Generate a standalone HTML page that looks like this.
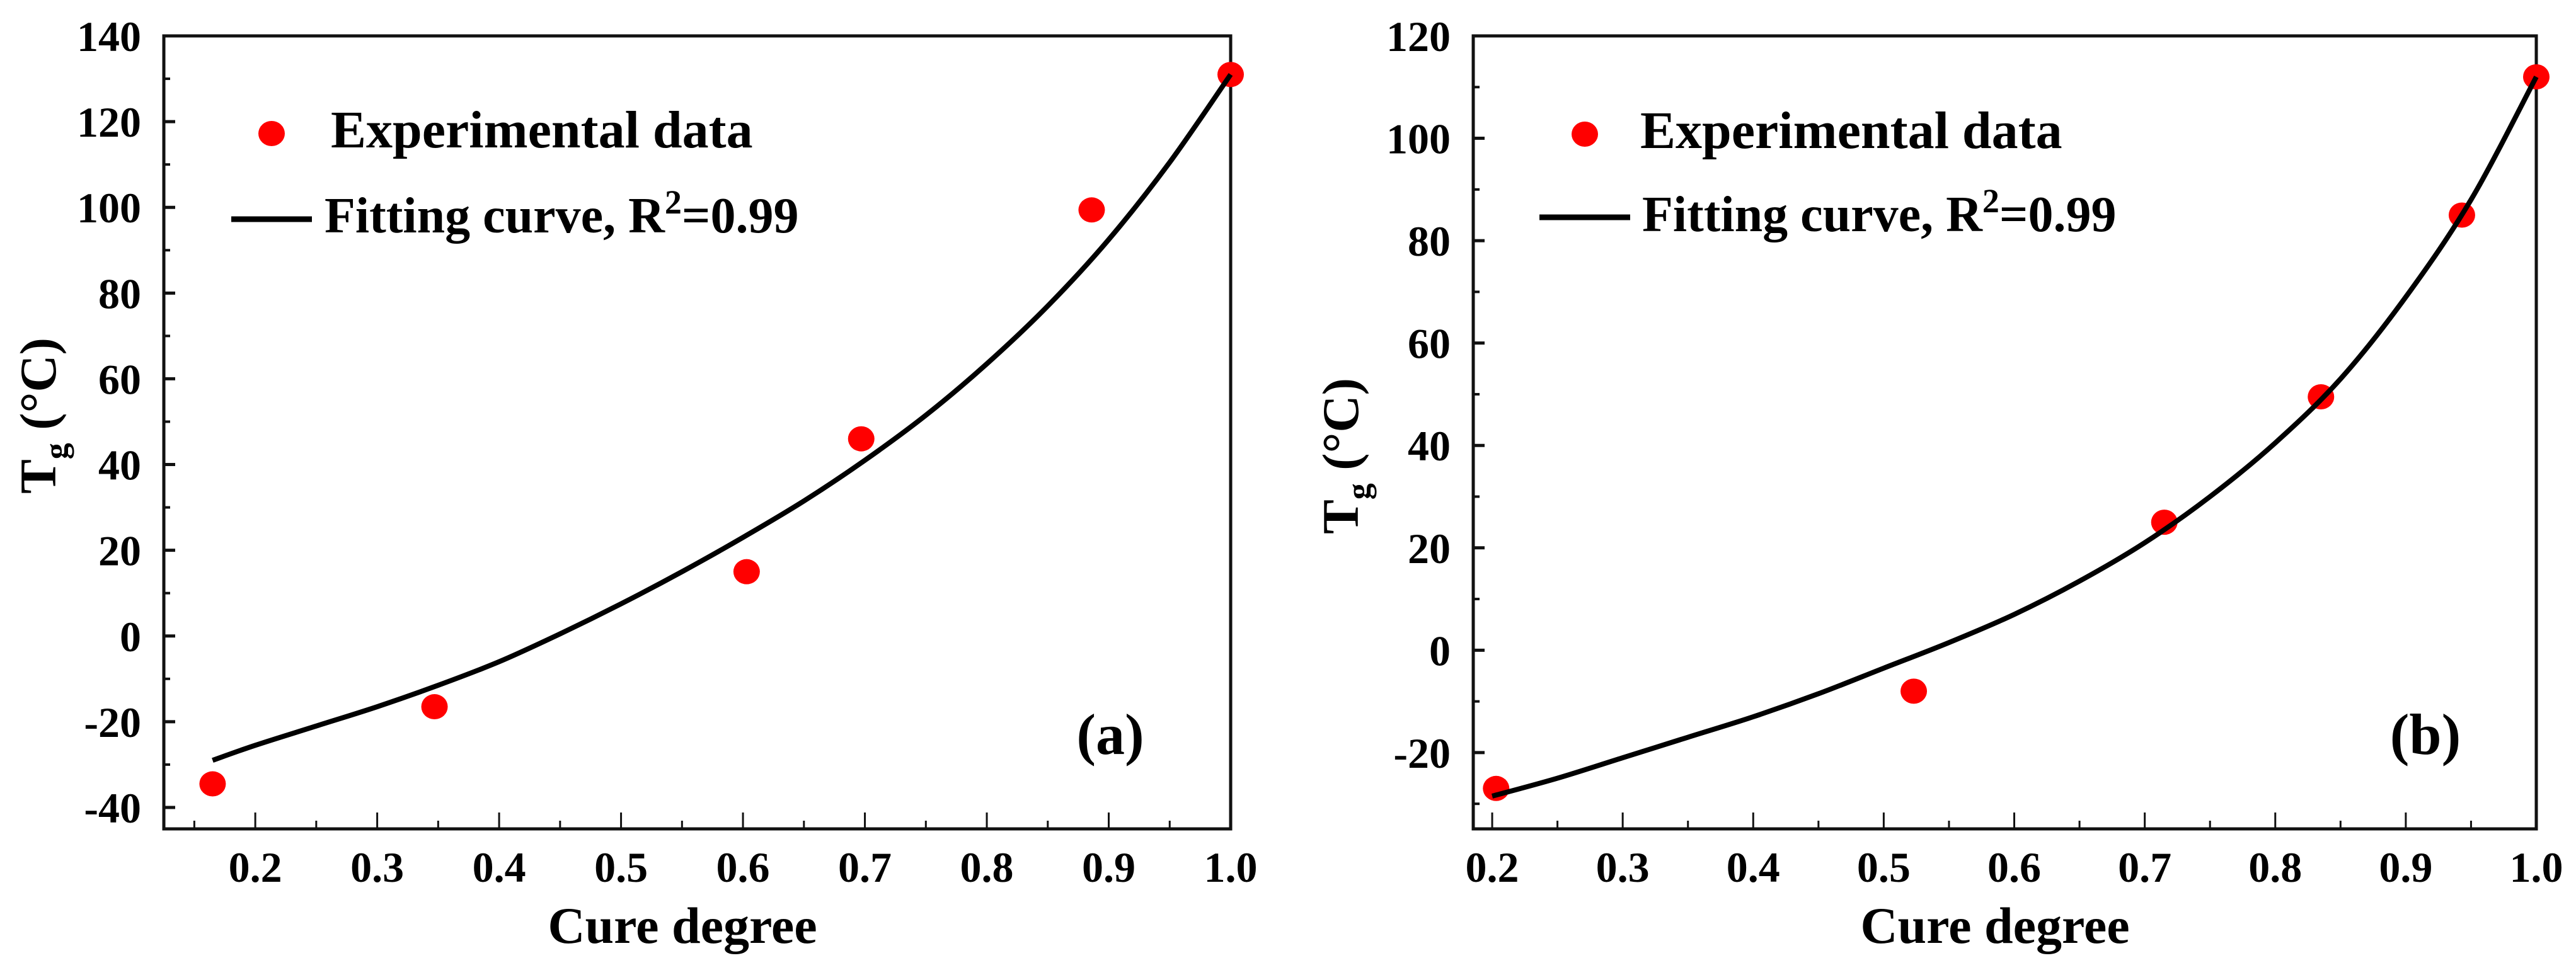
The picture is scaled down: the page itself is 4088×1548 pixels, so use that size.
<!DOCTYPE html>
<html><head><meta charset="utf-8"><style>
html,body{margin:0;padding:0;background:#fff;width:4088px;height:1548px;overflow:hidden}
svg text{font-family:"Liberation Serif",serif;font-weight:bold;fill:#000}
</style></head><body>
<svg id="fig" width="4088" height="1548" viewBox="0 0 4088 1548" xmlns="http://www.w3.org/2000/svg"></svg>
<script>
// Panel (a) data
const aExpX = [0.165, 0.347, 0.603, 0.697, 0.886, 1.0];
const aExpY = [-34.5, -16.5, 15, 46, 99.4, 131];
const aFitX = [0.165, 0.2, 0.25, 0.3, 0.35, 0.4, 0.45, 0.5, 0.55, 0.6, 0.65, 0.7, 0.75, 0.8, 0.85, 0.9, 0.95, 1.0];
const aFitY = [-29, -25.5, -21, -16.5, -11.5, -6, 0.5, 7.5, 15, 23, 31.5, 41, 51.5, 63.5, 77, 92.5, 110.5, 131];
const aYTicks = [-40, -20, 0, 20, 40, 60, 80, 100, 120, 140];
// Panel (b) data
const bExpX = [0.203, 0.523, 0.715, 0.835, 0.943, 1.0];
const bExpY = [-27, -8, 25, 49.5, 85, 112];
const bFitX = [0.2, 0.25, 0.3, 0.35, 0.4, 0.45, 0.5, 0.55, 0.6, 0.65, 0.7, 0.75, 0.8, 0.85, 0.9, 0.95, 1.0];
const bFitY = [-28.5, -25, -21, -17, -13, -8.5, -3.5, 1.5, 7, 13.5, 21, 30, 40.5, 53, 69, 88, 112];
const bYTicks = [-20, 0, 20, 40, 60, 80, 100, 120];
const xTicks = [0.2, 0.3, 0.4, 0.5, 0.6, 0.7, 0.8, 0.9, 1.0];
const xTickLabels = ["0.2","0.3","0.4","0.5","0.6","0.7","0.8","0.9","1.0"];

const NS = "http://www.w3.org/2000/svg";
const svg = document.getElementById('fig');
function mk(tag, attrs, parent, txt){
  const e = document.createElementNS(NS, tag);
  for (const k in attrs) e.setAttribute(k, attrs[k]);
  if (txt !== undefined) e.textContent = txt;
  (parent || svg).appendChild(e);
  return e;
}

function panel(cfg){
  const g = mk('g', {});
  
  
  const L=cfg.L, R=cfg.R, T=cfg.T, B=cfg.B;
  const sx = v => L + (v - cfg.x0) / (cfg.x1 - cfg.x0) * (R - L);
  const sy = v => B - (v - cfg.y0) / (cfg.y1 - cfg.y0) * (B - T);
  const fr = mk('rect', {x:L, y:T, width:R-L, height:B-T, fill:'none', stroke:'#111', 'stroke-width':5}, g);
  
  
  cfg.yTicks.forEach((v, i) => {
    const y = sy(v);
    if (y >= T - 1 && y <= B + 1) {
      mk('line', {x1:L, x2:L+18, y1:y, y2:y, stroke:'#111', 'stroke-width':5}, g);
      const t = mk('text', {x:L-36, y:y+24, 'text-anchor':'end', 'font-size':68}, g, String(v));
      
      
    }
    const m = v + (cfg.yTicks[1]-cfg.yTicks[0])/2;
    const ym = sy(m);
    if (ym >= T && ym <= B) mk('line', {x1:L, x2:L+10, y1:ym, y2:ym, stroke:'#111', 'stroke-width':4}, g);
  });
  const ym0 = sy(cfg.yTicks[0] - (cfg.yTicks[1]-cfg.yTicks[0])/2);
  if (ym0 <= B && ym0 >= T) mk('line', {x1:L, x2:L+10, y1:ym0, y2:ym0, stroke:'#111', 'stroke-width':4}, g);
  xTicks.forEach((v, i) => {
    const x = sx(v);
    mk('line', {x1:x, x2:x, y1:B, y2:B-26, stroke:'#111', 'stroke-width':3}, g);
    const xm = sx(v - 0.05);
    if (xm > L) mk('line', {x1:xm, x2:xm, y1:B, y2:B-13, stroke:'#111', 'stroke-width':3}, g);
    const t = mk('text', {x:x, y:1400, 'text-anchor':'middle', 'font-size':68}, g, xTickLabels[i]);
    
    
  });
  const P = cfg.fitX.map((x, i) => [sx(x), sy(cfg.fitY[i])]);
  let d = 'M' + P[0][0] + ',' + P[0][1];
  for (let i = 0; i < P.length - 1; i++) {
    const p0 = P[Math.max(0,i-1)], p1 = P[i], p2 = P[i+1], p3 = P[Math.min(P.length-1,i+2)];
    const c1 = [p1[0]+(p2[0]-p0[0])/6, p1[1]+(p2[1]-p0[1])/6];
    const c2 = [p2[0]-(p3[0]-p1[0])/6, p2[1]-(p3[1]-p1[1])/6];
    d += ' C' + c1 + ' ' + c2 + ' ' + p2;
  }
  cfg.expX.forEach((x, i) => {
    const c = mk('ellipse', {cx:sx(x), cy:sy(cfg.expY[i]), rx:21, ry:20, fill:'#ff0000'}, g);
    
    
  });
  const path = mk('path', {d:d, fill:'none', stroke:'#000', 'stroke-width':8}, g);
  
  
  const xt = mk('text', {x:cfg.xTitleX, y:1497, 'text-anchor':'middle', 'font-size':82}, g, 'Cure degree');
  
  
  const yt = mk('text', {transform:'translate(' + cfg.yTitleX + ',' + cfg.yTitleY + ') rotate(-90)', 'text-anchor':'middle', 'font-size':82}, g);
  
  
  mk('tspan', {}, yt, 'T');
  mk('tspan', {dy:18, 'font-size':52}, yt, 'g');
  mk('tspan', {dy:-18}, yt, ' (°C)');
  const lg = mk('g', {}, g);
  
  
  mk('ellipse', {cx:cfg.leg.dotX, cy:cfg.leg.dotY, rx:21, ry:20, fill:'#ff0000'}, lg);
  const l1 = mk('text', {x:cfg.leg.t1X, y:cfg.leg.t1Y, 'font-size':84}, lg, 'Experimental data');
  
  
  mk('line', {x1:cfg.leg.lX1, x2:cfg.leg.lX2, y1:cfg.leg.lY, y2:cfg.leg.lY, stroke:'#000', 'stroke-width':9}, lg);
  const l2 = mk('text', {x:cfg.leg.t2X, y:cfg.leg.t2Y, 'font-size':80}, lg);
  
  
  mk('tspan', {}, l2, 'Fitting curve, R');
  mk('tspan', {dy:-30, 'font-size':54}, l2, '2');
  mk('tspan', {dy:30}, l2, '=0.99');
  const pl = mk('text', {x:cfg.labX, y:1197, 'text-anchor':'middle', 'font-size':92}, g, cfg.label);
  
  
}

panel({name:'panel-a', L:260, R:1953, T:57, B:1316, x0:0.125, x1:1.0, y0:-45, y1:140,
  yTicks:aYTicks, expX:aExpX, expY:aExpY, fitX:aFitX, fitY:aFitY,
  xTitleX:1083, yTitleX:88, yTitleY:660, label:'(a)', labX:1762,
  leg:{dotX:431, dotY:212, t1X:525, t1Y:234, lX1:367, lX2:495, lY:348, t2X:515, t2Y:369}});
panel({name:'panel-b', L:2338, R:4025, T:57, B:1316, x0:0.1855, x1:1.0, y0:-34.9, y1:120,
  yTicks:bYTicks, expX:bExpX, expY:bExpY, fitX:bFitX, fitY:bFitY,
  xTitleX:3166, yTitleX:2155, yTitleY:724, label:'(b)', labX:3849,
  leg:{dotX:2515, dotY:213, t1X:2603, t1Y:235, lX1:2443, lX2:2587, lY:345, t2X:2606, t2Y:367}});
</script>
</body></html>
